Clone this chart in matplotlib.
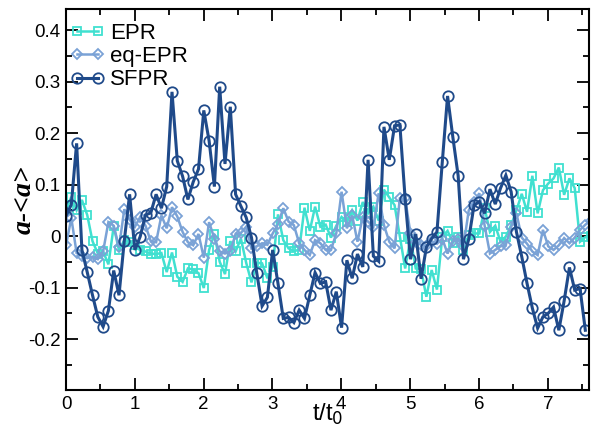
import numpy as np
import matplotlib
matplotlib.use("Agg")
import matplotlib.pyplot as plt

# sampling step of the time series (t/t0 units)
dt = 0.077

epr = [0.05, 0.076, 0.05, 0.07, 0.041, -0.01, -0.034, -0.03, -0.055, 0.019,
       -0.028, -0.008, -0.011, -0.017, -0.028, -0.03, -0.034, -0.035, -0.033, -0.07,
       -0.032, -0.079, -0.089, -0.063, -0.065, -0.072, -0.101, -0.027, 0.004, -0.05,
       -0.074, -0.01, -0.03, -0.005, -0.052, -0.09, -0.052, -0.053, -0.082, -0.06,
       0.042, -0.008, -0.024, -0.029, -0.027, 0.055, 0.01, 0.057, 0.018, 0.022,
       -0.003, 0.02, 0.037, 0.027, 0.05, 0.03, 0.066, 0.044, 0.057, 0.03,
       0.09, 0.075, 0.06, -0.001, -0.063, -0.005, -0.063, -0.065, -0.118, -0.066,
       -0.104, -0.001, 0.01, -0.013, -0.001, -0.027, 0.002, 0.005, 0.005, 0.054,
       0.008, 0.02, -0.011, -0.001, 0.021, 0.05, 0.082, 0.047, 0.117, 0.044,
       0.089, 0.102, 0.112, 0.133, 0.08, 0.112, 0.093, -0.011, -0.002, 0.0]

eq_epr = [-0.018, 0.035, -0.033, -0.038, -0.043, -0.04, -0.045, -0.03, 0.027, 0.02,
          -0.022, 0.052, 0.032, 0.018, 0.037, 0.02, -0.01, -0.012, 0.04, 0.015,
          0.056, 0.038, 0.008, -0.012, -0.018, 0.004, -0.042, 0.027, -0.005, -0.03,
          -0.034, -0.03, 0.004, 0.006, 0.018, -0.024, -0.02, -0.014, -0.017, 0.005,
          0.023, 0.054, 0.028, 0.021, -0.014, -0.027, -0.037, -0.008, -0.014, -0.027,
          -0.027, 0.005, 0.086, 0.015, 0.04, -0.011, 0.037, 0.028, 0.018, 0.083,
          0.021, -0.011, -0.024, 0.073, 0.073, 0.005, -0.011, -0.017, -0.02, -0.01,
          -0.015, -0.005, -0.034, -0.01, -0.005, -0.02, 0.05, 0.067, 0.083, 0.02,
          -0.034, -0.027, -0.02, -0.017, 0.018, 0.044, -0.003, -0.015, -0.03, -0.037,
          0.012, -0.02, -0.027, -0.018, -0.004, -0.014, -0.003, 0.012, 0.022, 0.03]

sfpr = [0.039, 0.061, 0.18, -0.027, -0.07, -0.115, -0.157, -0.176, -0.145, -0.067,
        -0.115, -0.009, 0.081, -0.027, -0.001, 0.041, 0.045, 0.081, 0.054, 0.096,
        0.28, 0.146, 0.116, 0.071, 0.105, 0.13, 0.244, 0.185, 0.096, 0.29,
        0.14, 0.251, 0.081, 0.058, 0.036, -0.003, -0.072, -0.136, -0.119, -0.027,
        -0.092, -0.16, -0.158, -0.168, -0.144, -0.16, -0.115, -0.071, -0.092, -0.089,
        -0.144, -0.108, -0.178, -0.047, -0.082, -0.035, -0.06, 0.148, -0.039, -0.049,
        0.212, 0.148, 0.214, 0.216, 0.072, -0.045, 0.004, -0.083, -0.022, -0.005,
        0.008, 0.143, 0.272, 0.192, 0.117, -0.045, -0.006, 0.06, 0.067, 0.044,
        0.091, 0.062, 0.093, 0.118, 0.086, 0.008, -0.04, -0.092, -0.14, -0.179,
        -0.157, -0.15, -0.138, -0.183, -0.126, -0.061, -0.105, -0.102, -0.183]

series = [("EPR", epr, "#40e0d0", "s", 6.0, 1.8),
          ("eq-EPR", eq_epr, "#7aa2d6", "D", 5.0, 1.8),
          ("SFPR", sfpr, "#1f4a8a", "o", 7.5, 2.2)]

y_ticks = [-0.2, -0.1, 0.0, 0.1, 0.2, 0.3, 0.4]
y_tick_labels = ["-0.2", "-0.1", "0", "0.1", "0.2", "0.3", "0.4"]
x_ticks = [0, 1, 2, 3, 4, 5, 6, 7]

plt.rcParams['font.family'] = ['Liberation Sans', 'DejaVu Sans']

fig = plt.figure(figsize=(5.91, 4.34), dpi=100)
ax = fig.add_axes([0.1117, 0.1014, 0.885, 0.878])

for name, vals, col, mk, ms, lw in series:
    t = dt * np.arange(len(vals))
    ax.plot(t, vals, color=col, lw=lw, marker=mk, ms=ms, mfc='none',
            mec=col, mew=1.3, label=name, solid_joinstyle='miter')

ax.set_xlim(0, 7.6)
ax.set_ylim(-0.299, 0.441)
ax.set_xticks(x_ticks)
ax.set_xticks(np.arange(0.5, 7.6, 1.0), minor=True)
ax.set_yticks(y_ticks)
ax.set_yticklabels(y_tick_labels)
ax.set_yticks(np.arange(-0.25, 0.44, 0.1), minor=True)

ax.tick_params(which='both', direction='in', top=True, right=True,
               width=1.3, labelsize=13.5, pad=4)
ax.tick_params(which='major', length=8.5)
ax.tick_params(which='minor', length=4.5)
for sp in ax.spines.values():
    sp.set_linewidth(1.5)

ax.set_xlabel("t/t$_0$", fontsize=17)
ax.xaxis.set_label_coords(0.5, -0.03)
ax.set_ylabel("a-<a>", fontsize=20, family='Liberation Serif',
              style='italic', weight='bold')
ax.yaxis.set_label_coords(-0.057, 0.5)

ax.legend(loc='upper left', bbox_to_anchor=(0.0, 0.975), frameon=False,
          fontsize=16, numpoints=2, handlelength=1.55, handletextpad=0.25,
          labelspacing=0.1, borderaxespad=0.1, borderpad=0.1)

fig.savefig("out.png", dpi=100)
